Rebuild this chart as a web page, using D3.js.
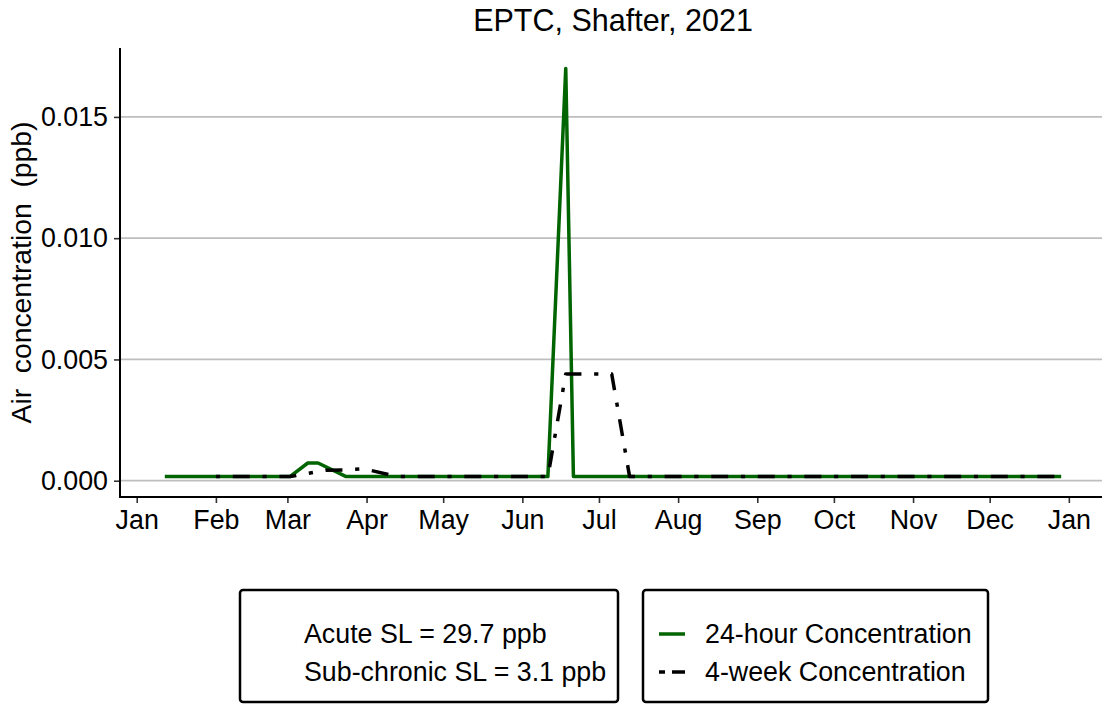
<!DOCTYPE html>
<html><head><meta charset="utf-8">
<script src="https://cdn.jsdelivr.net/npm/d3@7"></script>
<style>body{margin:0;background:#fff} text{font-family:"Liberation Sans",Arial,sans-serif;fill:#000}</style>
</head><body><svg id="c" width="1102" height="704"></svg>
<script>
const chartTitle = "EPTC, Shafter, 2021";
const yLabel = "Air  concentration  (ppb)";
const yTicks = [0, 0.005, 0.010, 0.015];
const yTickLabels = ["0.000", "0.005", "0.010", "0.015"];

const dates24h = ["2021-01-12","2021-01-19","2021-01-26","2021-02-02","2021-02-09","2021-02-16","2021-02-23",
  "2021-03-02","2021-03-09","2021-03-13","2021-03-24","2021-03-30","2021-04-06","2021-04-13","2021-04-20",
  "2021-04-27","2021-05-04","2021-05-11","2021-05-18","2021-05-25","2021-06-01","2021-06-11","2021-06-18",
  "2021-06-21","2021-06-29","2021-07-06","2021-07-13","2021-07-20","2021-07-27","2021-08-03","2021-08-10",
  "2021-08-17","2021-08-24","2021-08-31","2021-09-07","2021-09-14","2021-09-21","2021-09-28","2021-10-05",
  "2021-10-12","2021-10-19","2021-10-26","2021-11-02","2021-11-09","2021-11-16","2021-11-23","2021-11-30",
  "2021-12-07","2021-12-14","2021-12-21","2021-12-29"];
const values24h = [0.00017,0.00017,0.00017,0.00017,0.00017,0.00017,0.00017,
  0.00017,0.00073,0.00073,0.00017,0.00017,0.00017,0.00017,0.00017,
  0.00017,0.00017,0.00017,0.00017,0.00017,0.00017,0.00017,0.0170,
  0.00017,0.00017,0.00017,0.00017,0.00017,0.00017,0.00017,0.00017,
  0.00017,0.00017,0.00017,0.00017,0.00017,0.00017,0.00017,0.00017,
  0.00017,0.00017,0.00017,0.00017,0.00017,0.00017,0.00017,0.00017,
  0.00017,0.00017,0.00017,0.00017];

const dates4wk = ["2021-02-01","2021-02-08","2021-02-15","2021-02-22","2021-03-02","2021-03-16","2021-03-23",
  "2021-03-31","2021-04-13","2021-04-20","2021-04-27","2021-05-04","2021-05-11","2021-05-18","2021-05-25",
  "2021-06-01","2021-06-11","2021-06-18","2021-06-25","2021-07-02","2021-07-06","2021-07-13","2021-07-20",
  "2021-07-27","2021-08-03","2021-08-10","2021-08-17","2021-08-24","2021-08-31","2021-09-07","2021-09-14",
  "2021-09-21","2021-09-28","2021-10-05","2021-10-12","2021-10-19","2021-10-26","2021-11-02","2021-11-09",
  "2021-11-16","2021-11-23","2021-11-30","2021-12-07","2021-12-14","2021-12-21","2021-12-29"];
const values4wk = [0.00017,0.00017,0.00017,0.00017,0.00017,0.00043,0.00044,
  0.00049,0.00017,0.00017,0.00017,0.00017,0.00017,0.00017,0.00017,
  0.00017,0.00017,0.0044,0.0044,0.0044,0.0044,0.00017,0.00017,
  0.00017,0.00017,0.00017,0.00017,0.00017,0.00017,0.00017,0.00017,
  0.00017,0.00017,0.00017,0.00017,0.00017,0.00017,0.00017,0.00017,
  0.00017,0.00017,0.00017,0.00017,0.00017,0.00017,0.00017];

const legendNotes = ["Acute SL = 29.7 ppb", "Sub-chronic SL = 3.1 ppb"];
const seriesNames = ["24-hour Concentration", "4-week Concentration"];

const parse = d3.utcParse("%Y-%m-%d");
const s24 = dates24h.map((d, i) => ({date: parse(d), value: values24h[i]}));
const s4w = dates4wk.map((d, i) => ({date: parse(d), value: values4wk[i]}));

const svg = d3.select("#c");
const P = {left: 120, right: 1106, top: 48, bottom: 497};
const FS = 26.8;
const FT = 30.5;
const FY = 28.3;

const allDates = s24.concat(s4w).map(d => d.date);
const [dMin, dMax] = d3.extent(allDates);
const dPad = (dMax - dMin) * 0.05;
const x = d3.scaleUtc().domain([new Date(+dMin - dPad), new Date(+dMax + dPad)]).range([P.left, P.right]);
const allVals = s24.concat(s4w).map(d => d.value);
const [vMin, vMax] = d3.extent(allVals);
const vPad = (vMax - vMin) * 0.05;
const y = d3.scaleLinear().domain([vMin - vPad, vMax + vPad]).range([P.bottom, P.top]);

// grid
svg.append("g").selectAll("line").data(yTicks).join("line")
  .attr("x1", P.left).attr("x2", P.right)
  .attr("y1", d => y(d)).attr("y2", d => y(d))
  .attr("stroke", "#bebebe").attr("stroke-width", 1.8);

// axes
const xAxis = d3.axisBottom(x).ticks(d3.utcMonth.every(1)).tickFormat(d3.utcFormat("%b")).tickSize(6).tickPadding(7);
const gx = svg.append("g").attr("transform", `translate(0,${P.bottom})`).call(xAxis);
gx.select(".domain").remove();
gx.selectAll(".tick line").attr("stroke", "#333").attr("stroke-width", 1.6);
gx.selectAll(".tick text").attr("font-size", FS).attr("font-family", "Liberation Sans, Arial, sans-serif").attr("fill", "#000");
svg.append("line").attr("x1", P.left).attr("x2", P.right).attr("y1", P.bottom).attr("y2", P.bottom)
  .attr("stroke", "#000").attr("stroke-width", 2);

const yAxis = d3.axisLeft(y).tickValues(yTicks).tickFormat((d, i) => yTickLabels[i]).tickSize(6).tickPadding(6);
const gy = svg.append("g").attr("transform", `translate(${P.left},0)`).call(yAxis);
gy.select(".domain").remove();
gy.selectAll(".tick line").attr("stroke", "#333").attr("stroke-width", 1.6);
gy.selectAll(".tick text").attr("font-size", FS).attr("font-family", "Liberation Sans, Arial, sans-serif").attr("fill", "#000");
svg.append("line").attr("x1", P.left).attr("x2", P.left).attr("y1", P.top).attr("y2", P.bottom + 1)
  .attr("stroke", "#000").attr("stroke-width", 2);

// lines
const line = d3.line().x(d => x(d.date)).y(d => y(d.value));
svg.append("path").datum(s24).attr("d", line).attr("fill", "none")
  .attr("stroke", "#006400").attr("stroke-width", 3.5).attr("stroke-linejoin", "round");
svg.append("path").datum(s4w).attr("d", line).attr("fill", "none")
  .attr("stroke", "#000").attr("stroke-width", 3.5).attr("stroke-linejoin", "round")
  .attr("stroke-dasharray", "4.2 12.7 17 12.7");

// titles
svg.append("text").attr("x", (P.left + P.right) / 2).attr("y", 20).attr("dy", "0.35em")
  .attr("text-anchor", "middle").attr("font-size", FT).text(chartTitle);
svg.append("text").attr("transform", `translate(21,${(P.top + P.bottom) / 2}) rotate(-90)`)
  .attr("dy", "0.35em").attr("text-anchor", "middle").attr("font-size", FY).style("white-space", "pre")
  .text(yLabel);

// legends
const lg = svg.append("g");
lg.append("rect").attr("x", 240).attr("y", 590).attr("width", 378).attr("height", 112).attr("rx", 3)
  .attr("fill", "none").attr("stroke", "#000").attr("stroke-width", 2.5);
lg.selectAll("text.note").data(legendNotes).join("text").attr("class", "note")
  .attr("x", 304).attr("y", (d, i) => 634 + i * 38).attr("dy", "0.35em").attr("font-size", FS).text(d => d);
lg.append("rect").attr("x", 643).attr("y", 590).attr("width", 345).attr("height", 112).attr("rx", 3)
  .attr("fill", "none").attr("stroke", "#000").attr("stroke-width", 2.5);
const keyStyles = [{stroke: "#006400", dash: null}, {stroke: "#000", dash: "6 7 13 100"}];
seriesNames.forEach((name, i) => {
  const yy = 634 + i * 38;
  lg.append("line").attr("x1", 659).attr("x2", 685).attr("y1", yy).attr("y2", yy)
    .attr("stroke", keyStyles[i].stroke).attr("stroke-width", 3.5)
    .attr("stroke-dasharray", keyStyles[i].dash);
  lg.append("text").attr("x", 705).attr("y", yy).attr("dy", "0.35em").attr("font-size", FS).text(name);
});
</script></body></html>
